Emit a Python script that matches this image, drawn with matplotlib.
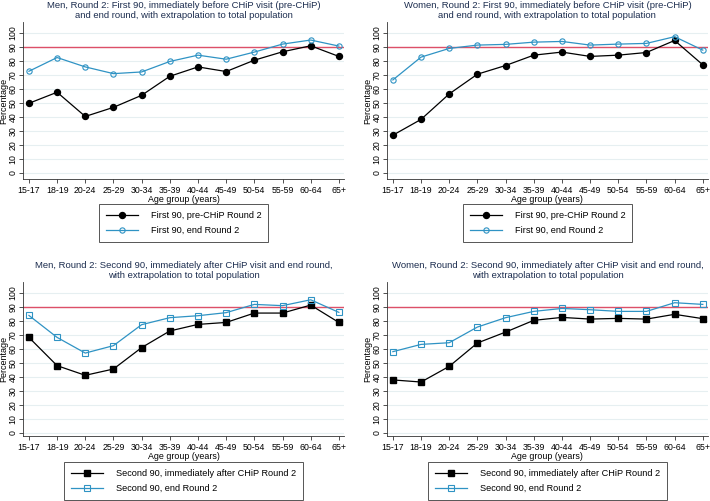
import matplotlib.pyplot as plt
import numpy as np

plt.rcParams['font.family'] = ['Liberation Sans', 'DejaVu Sans']

age_groups = ['15-17', '18-19', '20-24', '25-29', '30-34', '35-39',
              '40-44', '45-49', '50-54', '55-59', '60-64', '65+']

men_first_pre = [49.8, 57.7, 40.4, 46.9, 55.5, 69.1, 75.8, 72.5, 80.6, 86.6, 90.9, 83.3]
men_first_end = [72.7, 82.5, 75.8, 71.0, 72.2, 79.7, 84.2, 81.3, 86.4, 92.1, 95.0, 90.7]
women_first_pre = [27.0, 38.3, 56.5, 70.6, 76.8, 84.2, 86.4, 83.3, 84.2, 86.1, 94.7, 77.3]
women_first_end = [66.5, 82.8, 89.0, 91.4, 91.9, 93.5, 94.0, 91.4, 92.1, 92.6, 97.4, 87.8]
men_second_after = [68.3, 48.1, 41.2, 45.7, 61.0, 72.9, 77.6, 79.0, 85.7, 85.7, 91.4, 79.0]
men_second_end = [84.0, 68.3, 57.1, 62.4, 77.4, 82.4, 83.8, 86.0, 91.9, 91.0, 95.2, 86.2]
women_second_after = [37.9, 36.4, 47.6, 64.3, 72.1, 80.5, 82.6, 81.4, 81.9, 81.4, 84.8, 81.7]
women_second_end = [58.1, 63.3, 64.5, 75.7, 82.4, 86.9, 89.0, 88.1, 86.9, 86.9, 93.1, 91.9]

target = 90

titles = [
    'Men, Round 2: First 90, immediately before CHiP visit (pre-CHiP)\nand end round, with extrapolation to total population',
    'Women, Round 2: First 90, immediately before CHiP visit (pre-CHiP)\nand end round, with extrapolation to total population',
    'Men, Round 2: Second 90, immediately after CHiP visit and end round,\nwith extrapolation to total population',
    'Women, Round 2: Second 90, immediately after CHiP visit and end round,\nwith extrapolation to total population',
]
labels_first = ['First 90, pre-CHiP Round 2', 'First 90, end Round 2']
labels_second = ['Second 90, immediately after CHiP Round 2', 'Second 90, end Round 2']

blue = '#2f93c4'
red = '#dd5068'
navy = '#1c2d4f'

fig = plt.figure(figsize=(7.1, 5.01), dpi=100)

# axes rect, black series, blue series, marker, legend labels, ylim, title, legend offset
panels = [
    ([0.0324, 0.6427, 0.452, 0.3134], men_first_pre, men_first_end, 'o', labels_first, (-4.3, 107.9), titles[0], -0.16),
    ([0.545, 0.6427, 0.452, 0.3134], women_first_pre, women_first_end, 'o', labels_first, (-4.3, 107.9), titles[1], -0.16),
    ([0.0324, 0.1297, 0.452, 0.3074], men_second_after, men_second_end, 's', labels_second, (-2.2, 107.9), titles[2], -0.17),
    ([0.545, 0.1297, 0.452, 0.3074], women_second_after, women_second_end, 's', labels_second, (-2.2, 107.9), titles[3], -0.17),
]

x = np.arange(len(age_groups))

for rect, black_vals, blue_vals, mk, labels, ylim, title, leg_y in panels:
    ax = fig.add_axes(rect)
    for yv in range(0, 101, 10):
        ax.axhline(yv, color='#e6eff1', lw=0.8, zorder=0)
    ax.axhline(target, color=red, lw=1.0, zorder=1)
    ms_black = 4.3 if mk == 'o' else 4.0
    ax.plot(x, black_vals, color='black', lw=0.9, marker=mk, ms=ms_black,
            markerfacecolor='black', markeredgecolor='black', label=labels[0], zorder=3)
    ax.plot(x, blue_vals, color=blue, lw=0.9, marker=mk, ms=3.8,
            markerfacecolor='none', markeredgecolor=blue, markeredgewidth=0.8,
            label=labels[1], zorder=4)
    ax.set_xlim(-0.21, 11.18)
    ax.set_ylim(*ylim)
    ax.set_yticks(range(0, 101, 10))
    ax.set_yticklabels([str(v) for v in range(0, 101, 10)], rotation=90, va='center')
    ax.set_xticks(x)
    ax.set_xticklabels(age_groups)
    ax.tick_params(axis='both', labelsize=6.3, length=3, width=0.6, color='#333333')
    ax.tick_params(axis='y', pad=1)
    ax.tick_params(axis='x', pad=2)
    for s in ['top', 'right']:
        ax.spines[s].set_visible(False)
    for s in ['left', 'bottom']:
        ax.spines[s].set_linewidth(0.6)
        ax.spines[s].set_color('#333333')
    ax.set_xlabel('Age group (years)', fontsize=6.4, labelpad=0)
    ax.set_ylabel('Percentage', fontsize=6.5, labelpad=0.3)
    ax.set_title(title, fontsize=6.8, color=navy, linespacing=1.05, pad=3)
    leg = ax.legend(loc='upper center', bbox_to_anchor=(0.5, leg_y), ncol=1,
                    fontsize=6.6, frameon=True, fancybox=False, edgecolor='#555555',
                    handlelength=3.5, handletextpad=1.4, borderpad=0.75, labelspacing=0.65,
                    borderaxespad=0)
    leg.get_frame().set_linewidth(0.7)
    leg.get_frame().set_alpha(1.0)

fig.savefig('out.png', dpi=100)
